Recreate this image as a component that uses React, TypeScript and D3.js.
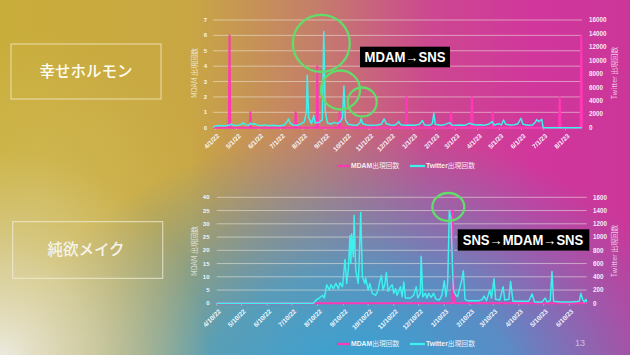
import React from "react";
import * as d3 from "d3";

const W = 630;
const H = 355;
const NUM = "'Liberation Sans', Arial, sans-serif";
const JP = "'Noto Sans CJK JP', 'Noto Sans', sans-serif";

// ---------- Top chart (幸せホルモン) ----------
const TOP_X_LABELS = ["4/1/22", "5/1/22", "6/1/22", "7/1/22", "8/1/22", "9/1/22", "10/1/22", "11/1/22", "12/1/22", "1/1/23", "2/1/23", "3/1/23", "4/1/23", "5/1/23", "6/1/23", "7/1/23", "8/1/23"];
const TOP_LEFT_TICKS = [0, 1, 2, 3, 4, 5, 6, 7];
const TOP_RIGHT_TICKS = [0, 2000, 4000, 6000, 8000, 10000, 12000, 14000, 16000];
const TOP_MDAM: [string, number][] = [
  ["2022-04-21", 6], ["2022-05-20", 1], ["2022-07-22", 1], ["2022-08-21", 4], ["2022-09-21", 1],
  ["2022-12-23", 2], ["2023-02-23", 1], ["2023-03-24", 2], ["2023-04-22", 1], ["2023-07-24", 2], ["2023-08-23", 6],
];
const TOP_TWITTER: [string, number][] = [
  ["2022-03-29", 0], ["2022-04-01", 250], ["2022-04-08", 320], ["2022-04-14", 280], ["2022-04-20", 350],
  ["2022-04-24", 550], ["2022-04-27", 330], ["2022-05-03", 380], ["2022-05-08", 500], ["2022-05-10", 750],
  ["2022-05-13", 420], ["2022-05-18", 350], ["2022-05-20", 700], ["2022-05-22", 500], ["2022-05-26", 600],
  ["2022-05-30", 380], ["2022-06-05", 330], ["2022-06-10", 420], ["2022-06-14", 300], ["2022-06-20", 380],
  ["2022-06-26", 280], ["2022-07-01", 300], ["2022-07-06", 400], ["2022-07-10", 900], ["2022-07-12", 1300],
  ["2022-07-14", 700], ["2022-07-18", 400], ["2022-07-24", 350], ["2022-07-30", 600], ["2022-08-03", 900],
  ["2022-08-06", 2500], ["2022-08-07", 7800], ["2022-08-09", 1500], ["2022-08-13", 600], ["2022-08-16", 1800],
  ["2022-08-18", 700], ["2022-08-24", 800], ["2022-08-28", 1200], ["2022-08-30", 14300], ["2022-09-01", 2500],
  ["2022-09-04", 700], ["2022-09-09", 550], ["2022-09-14", 800], ["2022-09-18", 600], ["2022-09-22", 900],
  ["2022-09-25", 1500], ["2022-09-27", 6200], ["2022-09-29", 1200], ["2022-10-03", 500], ["2022-10-09", 400],
  ["2022-10-15", 350], ["2022-10-19", 700], ["2022-10-21", 1350], ["2022-10-23", 600], ["2022-10-29", 400],
  ["2022-11-05", 350], ["2022-11-12", 400], ["2022-11-18", 500], ["2022-11-22", 1300], ["2022-11-25", 600],
  ["2022-12-01", 400], ["2022-12-06", 350], ["2022-12-10", 600], ["2022-12-12", 900], ["2022-12-15", 450],
  ["2022-12-22", 350], ["2022-12-28", 400], ["2023-01-04", 350], ["2023-01-10", 500], ["2023-01-14", 1050],
  ["2023-01-17", 400], ["2023-01-24", 350], ["2023-01-28", 600], ["2023-01-30", 2150], ["2023-02-01", 500],
  ["2023-02-08", 350], ["2023-02-14", 450], ["2023-02-21", 750], ["2023-02-24", 400], ["2023-03-02", 350],
  ["2023-03-08", 400], ["2023-03-14", 350], ["2023-03-20", 650], ["2023-03-25", 500], ["2023-03-30", 400],
  ["2023-04-05", 450], ["2023-04-10", 350], ["2023-04-16", 500], ["2023-04-21", 900], ["2023-04-24", 400],
  ["2023-04-30", 600], ["2023-05-04", 400], ["2023-05-07", 1150], ["2023-05-10", 500], ["2023-05-16", 400],
  ["2023-05-22", 450], ["2023-05-27", 600], ["2023-05-31", 1400], ["2023-06-03", 500], ["2023-06-10", 350],
  ["2023-06-16", 400], ["2023-06-20", 800], ["2023-06-22", 1200], ["2023-06-25", 900], ["2023-06-29", 1250],
  ["2023-07-01", 0], ["2023-08-24", 0],
];

// ---------- Bottom chart (純欲メイク) ----------
const BOT_X_LABELS = ["4/10/22", "5/10/22", "6/10/22", "7/10/22", "8/10/22", "9/10/22", "10/10/22", "11/10/22", "12/10/22", "1/10/23", "2/10/23", "3/10/23", "4/10/23", "5/10/23", "6/10/23"];
const BOT_LEFT_TICKS = [0, 5, 10, 15, 20, 25, 30, 35, 40];
const BOT_RIGHT_TICKS = [0, 200, 400, 600, 800, 1000, 1200, 1400, 1600];
const BOT_MDAM: [string, number][] = [["2023-01-20", 35], ["2023-01-21", 5]];
const BOT_TWITTER: [string, number][] = [
  ["2022-04-10", 0], ["2022-08-05", 0], ["2022-08-08", 50], ["2022-08-12", 80], ["2022-08-16", 120],
  ["2022-08-18", 80], ["2022-08-21", 280], ["2022-08-24", 200], ["2022-08-26", 280], ["2022-08-29", 220],
  ["2022-09-01", 300], ["2022-09-04", 220], ["2022-09-06", 310], ["2022-09-09", 250], ["2022-09-12", 660],
  ["2022-09-14", 300], ["2022-09-16", 500], ["2022-09-18", 1020], ["2022-09-19", 600], ["2022-09-20", 1050],
  ["2022-09-22", 700], ["2022-09-23", 1330], ["2022-09-25", 500], ["2022-09-28", 300], ["2022-09-29", 600],
  ["2022-10-01", 1370], ["2022-10-03", 400], ["2022-10-06", 300], ["2022-10-07", 380], ["2022-10-10", 200],
  ["2022-10-12", 300], ["2022-10-15", 150], ["2022-10-19", 120], ["2022-10-22", 200], ["2022-10-24", 330],
  ["2022-10-26", 420], ["2022-10-28", 200], ["2022-10-30", 280], ["2022-11-01", 460], ["2022-11-03", 180],
  ["2022-11-06", 250], ["2022-11-08", 280], ["2022-11-10", 150], ["2022-11-12", 220], ["2022-11-14", 120],
  ["2022-11-18", 250], ["2022-11-20", 100], ["2022-11-22", 320], ["2022-11-24", 80], ["2022-11-30", 80],
  ["2022-12-04", 120], ["2022-12-07", 250], ["2022-12-09", 80], ["2022-12-12", 150], ["2022-12-13", 710],
  ["2022-12-15", 100], ["2022-12-18", 150], ["2022-12-20", 80], ["2022-12-22", 150], ["2022-12-25", 90],
  ["2022-12-28", 150], ["2022-12-31", 60], ["2023-01-04", 50], ["2023-01-07", 120], ["2023-01-10", 340],
  ["2023-01-12", 100], ["2023-01-14", 300], ["2023-01-15", 800], ["2023-01-16", 1400], ["2023-01-18", 1300],
  ["2023-01-20", 500], ["2023-01-21", 200], ["2023-01-24", 120], ["2023-01-26", 100], ["2023-01-29", 250],
  ["2023-01-31", 350], ["2023-02-02", 490], ["2023-02-04", 60], ["2023-02-07", 40], ["2023-02-13", 40],
  ["2023-02-21", 40], ["2023-02-25", 60], ["2023-02-27", 110], ["2023-03-02", 40], ["2023-03-06", 200],
  ["2023-03-08", 80], ["2023-03-11", 370], ["2023-03-13", 60], ["2023-03-18", 50], ["2023-03-22", 250],
  ["2023-03-24", 50], ["2023-03-29", 60], ["2023-03-31", 330], ["2023-04-03", 30], ["2023-04-12", 30],
  ["2023-04-22", 30], ["2023-04-26", 140], ["2023-04-29", 20], ["2023-05-08", 20], ["2023-05-12", 80],
  ["2023-05-14", 20], ["2023-05-18", 40], ["2023-05-20", 480], ["2023-05-22", 30], ["2023-05-31", 20],
  ["2023-06-12", 20], ["2023-06-22", 30], ["2023-06-24", 150], ["2023-06-26", 60], ["2023-06-28", 20],
  ["2023-06-30", 60], ["2023-07-01", 20],
];

const LEGEND_MDAM = "MDAM";
const LEGEND_TWITTER = "Twitter";
const LEGEND_SUFFIX = "出現回数";
const PINK = "#ff38b6";
const CYAN = "#3ef0ee";
const GREEN = "#62dc6a";

const parseISO = d3.timeParse("%Y-%m-%d")!;
const parseTick = d3.timeParse("%m/%d/%y")!;
const fmtISO = d3.timeFormat("%Y-%m-%d");

type Pt = { date: Date; v: number };

function dailySeries(events: [string, number][], start: Date, end: Date): Pt[] {
  const m = new Map(events.map(([d, v]) => [d, v]));
  return d3.timeDay.range(start, d3.timeDay.offset(end, 1)).map((d) => ({ date: d, v: m.get(fmtISO(d)) ?? 0 }));
}

type Cfg = {
  start: string; end: string; x0: number; x1: number; y0: number; y1: number;
  leftTicks: number[]; rightTicks: number[]; xLabels: string[];
  mdam: [string, number][]; twitter: [string, number][];
  leftLabelX: number; rightLabelX: number; titleY: number; legendY: number;
};

function Chart({ c }: { c: Cfg }) {
  const s = parseISO(c.start);
  const e = parseISO(c.end);
  const x = d3.scaleTime().domain([s, e]).range([c.x0, c.x1]);
  const yL = d3.scaleLinear().domain([0, d3.max(c.leftTicks)!]).range([c.y0, c.y1]);
  const yR = d3.scaleLinear().domain([0, d3.max(c.rightTicks)!]).range([c.y0, c.y1]);
  const mdam = dailySeries(c.mdam, s, e);
  const tw: Pt[] = c.twitter.map(([d, v]) => ({ date: parseISO(d), v }));
  const lineL = d3.line<Pt>().x((d) => x(d.date)).y((d) => yL(d.v));
  const lineR = d3.line<Pt>().x((d) => x(d.date)).y((d) => yR(d.v));
  const fmt = d3.format("d");
  return (
    <g>
      {c.leftTicks.map((t) => (
        <line key={"g" + t} x1={c.x0} x2={c.x1} y1={yL(t)} y2={yL(t)} stroke="rgba(240,236,225,0.6)" strokeWidth={0.9} />
      ))}
      {c.leftTicks.map((t) => (
        <text key={"l" + t} x={c.leftLabelX} y={yL(t)} dy="0.35em" textAnchor="end" fontFamily={NUM} fontWeight="bold" fontSize={6} fill="rgba(255,255,255,0.92)">{fmt(t)}</text>
      ))}
      {c.rightTicks.map((t) => (
        <text key={"r" + t} x={c.rightLabelX} y={yR(t)} dy="0.35em" textAnchor="start" fontFamily={NUM} fontWeight="bold" fontSize={6.3} fill="rgba(255,255,255,0.92)">{fmt(t)}</text>
      ))}
      {c.xLabels.map((lab) => {
        const tx = x(parseTick(lab)!);
        return (
          <g key={lab}>
            <line x1={tx} x2={tx} y1={c.y0} y2={c.y0 + 2.5} stroke="rgba(255,255,255,0.5)" strokeWidth={0.7} />
            <text transform={`translate(${tx + 3},${c.y0 + 7}) rotate(-45)`} textAnchor="end" dy="0.35em" fontFamily={NUM} fontWeight="bold" fontSize={6.6} fill="rgba(255,255,255,0.95)">{lab}</text>
          </g>
        );
      })}
      <path d={lineL(mdam)!} fill="none" stroke={PINK} strokeWidth={2} strokeLinejoin="round" />
      <path d={lineR(tw)!} fill="none" stroke={CYAN} strokeWidth={1.5} strokeLinejoin="round" />
      <text transform={`translate(195,${c.titleY}) rotate(-90)`} textAnchor="middle" dy="0.35em" fontFamily={JP} fontSize={7} fill="rgba(255,255,255,0.72)">MDAM 出現回数</text>
      <text transform={`translate(615,${c.titleY}) rotate(-90)`} textAnchor="middle" dy="0.35em" fontFamily={JP} fontSize={7} fill="rgba(255,255,255,0.72)">Twitter 出現回数</text>
      <g transform={`translate(0,${c.legendY})`}>
        <line x1={337} x2={350} y1={0} y2={0} stroke={PINK} strokeWidth={2.2} />
        <text x={351} y={0} dy="0.35em" fontFamily={JP} fontSize={6.8} fill="rgba(255,255,255,0.9)">
          <tspan fontFamily={NUM} fontWeight="bold">{LEGEND_MDAM}</tspan>
          <tspan>{LEGEND_SUFFIX}</tspan>
        </text>
        <line x1={410} x2={425} y1={0} y2={0} stroke={CYAN} strokeWidth={2.2} />
        <text x={426} y={0} dy="0.35em" fontFamily={JP} fontSize={6.8} fill="rgba(255,255,255,0.9)">
          <tspan fontFamily={NUM} fontWeight="bold">{LEGEND_TWITTER}</tspan>
          <tspan>{LEGEND_SUFFIX}</tspan>
        </text>
      </g>
    </g>
  );
}

const TOP: Cfg = {
  start: "2022-03-29", end: "2023-08-24", x0: 213, x1: 582, y0: 127.7, y1: 20,
  leftTicks: TOP_LEFT_TICKS, rightTicks: TOP_RIGHT_TICKS, xLabels: TOP_X_LABELS,
  mdam: TOP_MDAM, twitter: TOP_TWITTER, leftLabelX: 207, rightLabelX: 589, titleY: 73, legendY: 166,
};
const BOT: Cfg = {
  start: "2022-04-10", end: "2023-07-01", x0: 216.7, x1: 586.7, y0: 303.3, y1: 197.3,
  leftTicks: BOT_LEFT_TICKS, rightTicks: BOT_RIGHT_TICKS, xLabels: BOT_X_LABELS,
  mdam: BOT_MDAM, twitter: BOT_TWITTER, leftLabelX: 209.5, rightLabelX: 593, titleY: 251, legendY: 344,
};

export default function App() {
  return (
    <svg width={W} height={H} style={{ position: "absolute", left: 0, top: 0, display: "block" }}>
      <defs>
        <linearGradient id="bgH" x1="0" y1="0" x2="1" y2="0">
          <stop offset="0" stopColor="#c9ad3a" />
          <stop offset="0.3" stopColor="#c8a743" />
          <stop offset="0.5" stopColor="#c47e6a" />
          <stop offset="0.68" stopColor="#cc4890" />
          <stop offset="0.85" stopColor="#d1369c" />
          <stop offset="1" stopColor="#cb3699" />
        </linearGradient>
        <radialGradient id="blue" gradientUnits="userSpaceOnUse" cx="360" cy="390" r="260" gradientTransform="translate(360,390) scale(1.35,1) translate(-360,-390)">
          <stop offset="0" stopColor="#2fa6d8" stopOpacity="1" />
          <stop offset="0.45" stopColor="#3e9fd0" stopOpacity="0.8" />
          <stop offset="1" stopColor="#5a8ac0" stopOpacity="0" />
        </radialGradient>
        <radialGradient id="cream" gradientUnits="userSpaceOnUse" cx="0" cy="360" r="210">
          <stop offset="0" stopColor="#ecebe2" stopOpacity="1" />
          <stop offset="0.45" stopColor="#dedab8" stopOpacity="0.7" />
          <stop offset="1" stopColor="#d6cc90" stopOpacity="0" />
        </radialGradient>
        <radialGradient id="paleY" gradientUnits="userSpaceOnUse" cx="40" cy="200" r="170">
          <stop offset="0" stopColor="#d8c870" stopOpacity="0.45" />
          <stop offset="1" stopColor="#d8c870" stopOpacity="0" />
        </radialGradient>
      </defs>
      <rect x={0} y={0} width={W} height={H} fill="url(#bgH)" />
      <rect x={0} y={0} width={W} height={H} fill="url(#paleY)" />
      <rect x={0} y={0} width={W} height={H} fill="url(#blue)" />
      <rect x={0} y={0} width={W} height={H} fill="url(#cream)" />

      <rect x={11} y={44} width={150} height={55} fill="none" stroke="rgba(245,235,200,0.8)" strokeWidth={1} />
      <text x={86} y={72} dy="0.35em" textAnchor="middle" fontFamily={JP} fontSize={15.5} fontWeight={500} fill="#fffdf2">幸せホルモン</text>
      <rect x={12.7} y={221.7} width={150} height={56.6} fill="none" stroke="rgba(245,240,220,0.8)" strokeWidth={1} />
      <text x={86} y={250} dy="0.35em" textAnchor="middle" fontFamily={JP} fontSize={15.5} fontWeight={500} fill="#f6f4ea">純欲メイク</text>

      <Chart c={TOP} />
      <Chart c={BOT} />

      <circle cx={321.3} cy={43.3} r={28.5} fill="none" stroke={GREEN} strokeWidth={2.3} />
      <circle cx={340.5} cy={90} r={19.5} fill="none" stroke={GREEN} strokeWidth={2.3} />
      <circle cx={362.2} cy={102} r={14.5} fill="none" stroke={GREEN} strokeWidth={2.3} />
      <ellipse cx={448.3} cy={207} rx={16} ry={14} fill="none" stroke={GREEN} strokeWidth={2.3} />

      <rect x={360} y={46.7} width={90} height={20.6} fill="#000" />
      <text x={364.5} y={57} dy="0.36em" fontFamily={NUM} fontWeight="bold" fontSize={14} fill="#fff" textLength={81} lengthAdjust="spacingAndGlyphs">MDAM→SNS</text>
      <rect x={457.7} y={229.3} width={131.6} height={21.4} fill="#000" />
      <text x={462.7} y={240} dy="0.36em" fontFamily={NUM} fontWeight="bold" fontSize={14} fill="#fff" textLength={120.6} lengthAdjust="spacingAndGlyphs">SNS→MDAM→SNS</text>

      <text x={580} y={346} textAnchor="middle" fontFamily={NUM} fontSize={9} fill="rgba(225,225,235,0.75)">13</text>
    </svg>
  );
}
